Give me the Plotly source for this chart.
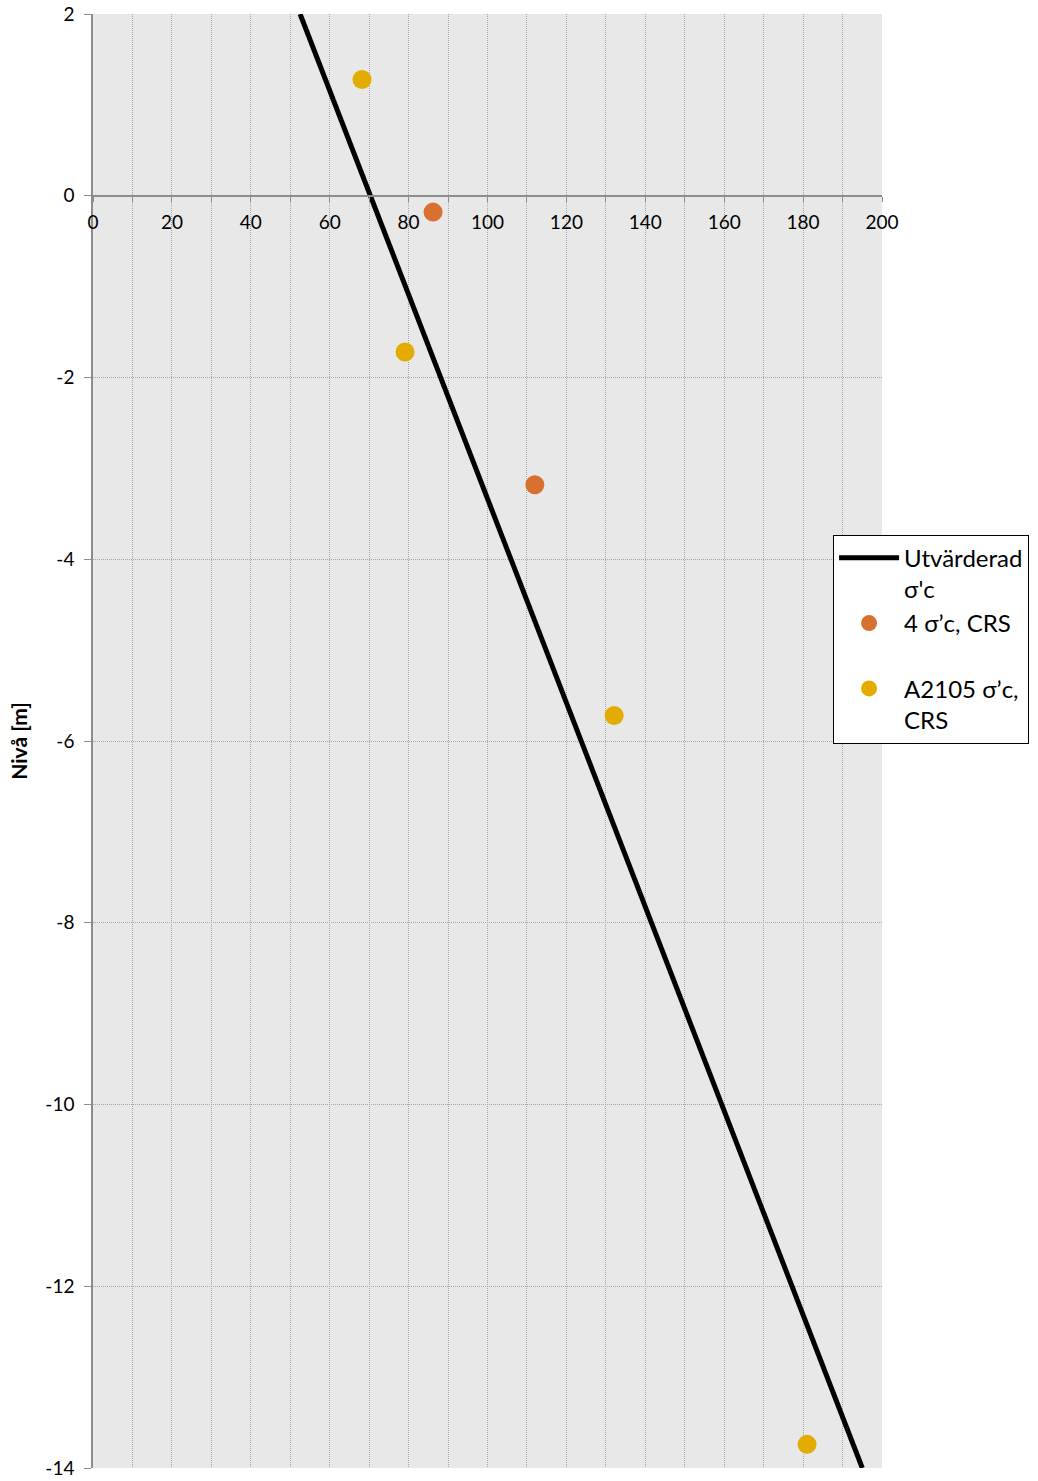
import plotly.graph_objects as go

# Evaluated preconsolidation pressure line (kPa vs level)
line_sigma = [52.5, 195.0]
line_level = [2.0, -14.0]

# CRS tests, borehole 4
crs4_sigma = [86.2, 112.0]
crs4_level = [-0.18, -3.18]

# CRS tests, borehole A2105
a2105_sigma = [68.2, 79.1, 132.1, 181.0]
a2105_level = [1.28, -1.72, -5.72, -13.74]

y_tickvals = [2, 0, -2, -4, -6, -8, -10, -12, -14]
y_ticktext = ["2", "0", "-2", "-4", "-6", "-8", "-10", "-12", "-14"]
x_tickvals = [0, 20, 40, 60, 80, 100, 120, 140, 160, 180, 200]
x_ticktext = [str(v) for v in x_tickvals]

FONT = "Lato, 'Open Sans', sans-serif"
GRID = "#a8a8a8"
AXIS = "#8c8c8c"
DOTS = "1px,1px"

fig = go.Figure()
fig.add_trace(go.Scatter(
    x=line_sigma, y=line_level, mode="lines",
    line=dict(color="black", width=5),
    name="Utvärderad<br>σ'c",
))
fig.add_trace(go.Scatter(
    x=crs4_sigma, y=crs4_level, mode="markers",
    marker=dict(color="#D8702F", size=19),
    name="4 σ’c, CRS<br> ",
))
fig.add_trace(go.Scatter(
    x=a2105_sigma, y=a2105_level, mode="markers",
    marker=dict(color="#E4AC00", size=19),
    name="A2105 σ’c,<br>CRS",
))

fig.update_layout(
    width=1038, height=1481,
    margin=dict(l=93, r=156, t=14, b=13, autoexpand=False),
    paper_bgcolor="white",
    plot_bgcolor="#E8E8E8",
    font=dict(family=FONT, size=19, color="black"),
    showlegend=True,
    legend=dict(
        x=0.938, xanchor="left", y=0.642, yanchor="top",
        bgcolor="white", bordercolor="black", borderwidth=1,
        font=dict(size=24, family=FONT),
        valign="top", itemwidth=60, tracegroupgap=0,
    ),
)

fig.update_xaxes(
    range=[0, 200], automargin=False,
    anchor="free", position=0.875,
    tickvals=x_tickvals, ticktext=x_ticktext,
    ticks="outside", ticklen=5, tickcolor=AXIS, tickwidth=1,
    ticklabelstandoff=5,
    showline=True, linecolor=AXIS, linewidth=1.5,
    showgrid=True, gridcolor=GRID, griddash=DOTS, gridwidth=1,
    zeroline=False,
    minor=dict(dtick=10, ticks="outside", ticklen=5, tickcolor=AXIS,
               showgrid=True, gridcolor=GRID, griddash=DOTS, gridwidth=1),
    tickfont=dict(size=19),
)
fig.update_yaxes(
    range=[-14, 2], automargin=False,
    tickvals=y_tickvals, ticktext=y_ticktext,
    ticks="outside", ticklen=7, tickcolor=AXIS,
    ticklabelstandoff=6,
    showline=True, linecolor=AXIS, linewidth=1.5,
    showgrid=True, gridcolor=GRID, griddash=DOTS, gridwidth=1,
    zeroline=False,
    tickfont=dict(size=19),
    title=dict(text="<b>Nivå [m]</b>", font=dict(size=21), standoff=12),
)

fig.write_html("out.html")
